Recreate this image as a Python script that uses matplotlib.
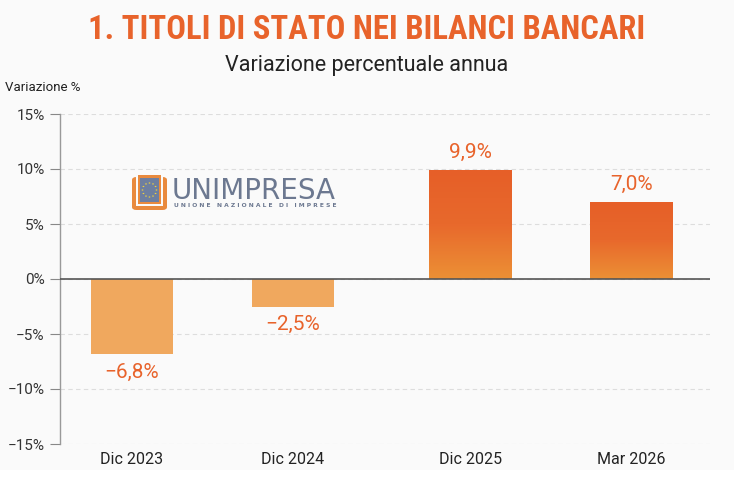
import numpy as np
import matplotlib
matplotlib.use('Agg')
import matplotlib.pyplot as plt
from matplotlib import font_manager
from matplotlib.patches import Rectangle, FancyBboxPatch, Circle
from matplotlib.colors import LinearSegmentedColormap

# Data
categories = ['Dic 2023', 'Dic 2024', 'Dic 2025', 'Mar 2026']
values = [-6.8, -2.5, 9.9, 7.0]
labels = ['\u22126,8%', '\u22122,5%', '9,9%', '7,0%']
yticks = [-15, -10, -5, 0, 5, 10, 15]
ytick_labels = ['\u221215%', '\u221210%', '\u22125%', '0%', '5%', '10%', '15%']

xpos = [0, 1, 2.1, 3.1]

# look for a condensed face if one is installed
fonts = font_manager.fontManager.ttflist
names = {f.name for f in fonts}
cond = None
for cand in ['Roboto Condensed', 'Liberation Sans Narrow', 'Open Sans Condensed']:
    if cand in names:
        cond = (cand, 'normal')
        break
if cond is None:
    for f in fonts:
        if f.name in ('DejaVu Sans', 'Roboto', 'Noto Sans', 'Open Sans') and 'condensed' in str(f.stretch):
            cond = (f.name, 'condensed')
            break
if cond is None:
    cond = ('Roboto', 'normal')
title_family, title_stretch = cond
condensed_found = title_stretch == 'condensed' or title_family != 'Roboto'

plt.rcParams['font.family'] = ['Roboto', 'DejaVu Sans']

ORANGE = '#E8632B'
LIGHT = '#F0A85E'
BG = '#FAFAFA'
W, H = 734.0, 500.0


def fx(px):
    return px / W


def fy(py):
    return 1 - py / H


fig = plt.figure(figsize=(7.34, 5.0), dpi=100)
fig.patch.set_facecolor('white')
fig.patches.append(Rectangle((0, fy(470)), 1, 470 / H, transform=fig.transFigure,
                             facecolor=BG, edgecolor='none', zorder=-10))

ax = fig.add_axes([fx(60), fy(444), fx(710) - fx(60), fy(114) - fy(444)])
ax.set_facecolor(BG)

grad = LinearSegmentedColormap.from_list('g', ['#EC9035', '#E8692C', '#E65F28'])
width = 0.51
for x, v, lab in zip(xpos, values, labels):
    if v >= 0:
        r = Rectangle((x - width / 2, 0), width, v, facecolor='none', edgecolor='none')
        ax.add_patch(r)
        img = ax.imshow(np.linspace(0, 1, 100).reshape(-1, 1), cmap=grad, origin='lower',
                        extent=(x - width / 2, x + width / 2, 0, v), aspect='auto', zorder=2)
        img.set_clip_path(r)
        ax.text(x, v + 0.75, lab, ha='center', va='bottom', color=ORANGE, fontsize=15)
    else:
        ax.bar(x, v, width=width, color=LIGHT, zorder=2)
        ax.text(x, v - 0.8, lab, ha='center', va='top', color=ORANGE, fontsize=15)

ax.set_xlim(-0.447, 3.59)
ax.set_ylim(-15, 15)

ax.set_yticks(yticks)
ax.set_yticklabels(ytick_labels, fontsize=11, color='#333333')
ax.set_xticks(xpos)
ax.set_xticklabels(categories, fontsize=11.5, color='#222222')
ax.tick_params(axis='x', length=0, pad=6)
ax.tick_params(axis='y', length=7, width=0.8, color='#888888', pad=4)
ax.grid(axis='y', linestyle=(0, (4, 3)), color='#DDDDDD', linewidth=0.8)
ax.set_axisbelow(True)
ax.axhline(0, color='#555555', linewidth=1.2, zorder=3)
for s in ['top', 'right', 'bottom']:
    ax.spines[s].set_visible(False)
ax.spines['left'].set_color('#999999')
ax.spines['left'].set_linewidth(1.0)

tsize = 23.5 if condensed_found else 21
fig.text(0.5, fy(30), '1. TITOLI DI STATO NEI BILANCI BANCARI', ha='center', va='center',
         color=ORANGE, fontsize=tsize, fontweight='bold',
         family=[title_family, 'DejaVu Sans'], fontstretch=title_stretch)
fig.text(0.5, fy(66), 'Variazione percentuale annua', ha='center', va='center',
         color='#222222', fontsize=15.5)
fig.text(fx(5), fy(88), 'Variazione %', ha='left', va='center', color='#222222', fontsize=9.5)

# logo
logo = [
    FancyBboxPatch((fx(132), fy(210)), 35 / W, 33 / H, boxstyle='round,pad=0,rounding_size=0.006',
                   facecolor='#E98A3E', zorder=5),
    Rectangle((fx(136), fy(206)), 27 / W, 36 / H, facecolor=BG, zorder=6),
    Rectangle((fx(138), fy(204)), 23 / W, 29 / H, facecolor='#E98A3E', zorder=7),
    Rectangle((fx(140), fy(202)), 19 / W, 24 / H, facecolor='#6E7FA0', zorder=8),
]
for p in logo:
    p.set_transform(fig.transFigure)
    p.set_edgecolor('none')
    fig.patches.append(p)
ang = np.linspace(0, 2 * np.pi, 12, endpoint=False)
for a in ang:
    fig.patches.append(Circle((fx(149.5 + 7 * np.cos(a)), fy(190 + 7 * np.sin(a))), 0.9 / W,
                              transform=fig.transFigure, facecolor='#F2D23A',
                              edgecolor='none', zorder=9))
fig.text(fx(172), fy(191), 'UNIMPRESA', ha='left', va='center',
         color='#6C7890', fontsize=20, family='DejaVu Sans', zorder=6)
fig.text(fx(174), fy(206), 'U N I O N E   N A Z I O N A L E   D I   I M P R E S E',
         ha='left', va='center', color='#6C7890', fontsize=4.3, fontweight='bold',
         family='DejaVu Sans', zorder=6)

fig.savefig('out.png', dpi=100, facecolor=fig.get_facecolor())
